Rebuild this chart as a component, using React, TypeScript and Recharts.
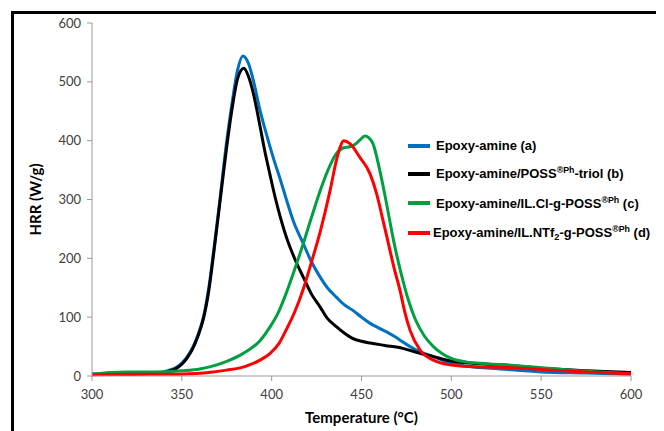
import { LineChart, Line, XAxis, YAxis, Legend, Label } from 'recharts';

// Epoxy-amine (a)
const tempA = [300, 315, 330, 338, 343, 347, 350, 353, 356, 359, 362, 365, 368, 371, 375, 378, 381, 384, 387, 390, 393.5, 397, 401, 405, 408, 412, 417.6, 422, 427, 431, 436, 440, 445, 450, 455, 460, 464, 468, 473, 477, 482, 490, 499, 510, 527, 550, 575, 600];
const hrrA = [3, 3, 4, 6, 10, 15, 22, 33, 48, 70, 100, 150, 220, 295, 400, 465, 520, 544, 532, 500, 452, 412, 370, 332, 302, 264, 225, 195, 168, 150, 134, 122, 112, 100, 89, 81, 75, 68, 58, 50, 42, 33, 22, 16, 12, 7, 5, 3];

// Epoxy-amine/POSS-triol (b)
const tempB = [300, 315, 330, 338, 343, 347, 350, 353, 356, 359, 362, 365, 368, 371, 375, 378, 381, 384.5, 387, 390, 393.5, 396, 399, 402, 405, 408.3, 413, 417.6, 422, 427, 431, 436, 440, 445, 450, 455, 463, 473, 481, 490, 499, 510, 527, 550, 575, 600];
const hrrB = [3, 3, 4, 5, 8, 13, 20, 31, 46, 68, 97, 145, 215, 290, 390, 455, 505, 523, 510, 478, 425, 385, 343, 303, 268, 235, 198, 168, 140, 117, 98, 84, 74, 64, 59, 56, 52, 47, 40, 33, 26, 22, 19, 13, 9, 6];

// Epoxy-amine/IL.Cl-g-POSS (c)
const tempC = [300, 310, 320, 335, 350, 360, 366, 375, 384, 393.5, 399, 404, 408, 413, 417.6, 422, 427, 432.5, 436, 440, 444, 447, 449, 452, 454, 456.4, 460, 464, 468, 472, 476, 480, 485, 490, 495, 500, 508, 520, 535, 550, 575, 600];
const hrrC = [3, 6, 7, 7, 9, 12, 16, 25, 38, 60, 83, 110, 140, 183, 225, 268, 315, 358, 378, 388, 390, 395, 401, 408, 405, 395, 352, 292, 228, 175, 130, 96, 68, 50, 38, 30, 24, 21, 18, 14, 8, 4];

// Epoxy-amine/IL.NTf2-g-POSS (d)
const tempD = [300, 320, 340, 355, 365, 375, 385, 393.5, 399, 404, 408, 413, 417.6, 422, 427, 432.5, 436, 438, 440, 443.6, 449, 454.7, 458.4, 462, 465, 468, 471.4, 474, 477, 482.6, 490, 499, 510, 527, 550, 575, 600];
const hrrD = [2, 3, 3, 4, 6, 10, 16, 27, 38, 55, 78, 110, 148, 192, 245, 315, 366, 388, 400, 395, 372, 344, 310, 264, 225, 185, 146, 110, 78, 44, 27, 19, 16, 15, 11, 7, 4];

const xTicks = [300, 350, 400, 450, 500, 550, 600];
const yTicks = [0, 100, 200, 300, 400, 500, 600];

const toPoints = (t: number[], v: number[]) => t.map((x, i) => ({ t: x, v: v[i] }));

const series = [
  { key: 'a', color: '#0070C0', points: toPoints(tempA, hrrA) },
  { key: 'b', color: '#000000', points: toPoints(tempB, hrrB) },
  { key: 'c', color: '#00A040', points: toPoints(tempC, hrrC) },
  { key: 'd', color: '#FF0000', points: toPoints(tempD, hrrD) },
];

const supStyle = { fontSize: '0.68em', position: 'relative' as const, top: '-0.55em', verticalAlign: 'baseline' };
const subStyle = { fontSize: '0.7em', position: 'relative' as const, top: '0.3em', verticalAlign: 'baseline' };

const legendRows = [
  { color: '#0070C0', body: <>Epoxy-amine (a)</> },
  { color: '#000000', body: <>Epoxy-amine/POSS<span style={supStyle}>®Ph</span>-triol (b)</> },
  { color: '#00A040', body: <>Epoxy-amine/IL.Cl-g-POSS<span style={supStyle}>®Ph</span> (c)</> },
  { color: '#FF0000', body: <>Epoxy-amine/IL.NTf<span style={subStyle}>2</span>-g-POSS<span style={supStyle}>®Ph</span> (d)</> },
];
const rowHeights = [27, 29, 30, 29];

const tickFont = { fontFamily: 'Lato, sans-serif', fontSize: 13, fill: '#404040' };

function renderLegend() {
  return (
    <div style={{ fontFamily: '"Liberation Sans", Arial, sans-serif', fontWeight: 'bold', fontSize: 13, color: '#000' }}>
      {legendRows.map((r, i) => (
        <div key={i} style={{ display: 'flex', alignItems: 'center', height: rowHeights[i], whiteSpace: 'nowrap' }}>
          <span style={{ display: 'inline-block', width: 22, height: 4, background: r.color, marginRight: i === 3 ? 3 : 6 }} />
          <span style={{ lineHeight: 1 }}>{r.body}</span>
        </div>
      ))}
    </div>
  );
}

export default function App() {
  return (
    <div style={{ position: 'relative', width: 656, height: 423, overflow: 'hidden' }}>
      <div style={{ position: 'absolute', left: 3, top: 3, width: 720, height: 520, border: '3px solid #000', boxSizing: 'border-box' }} />
      <div style={{ position: 'absolute', left: 0, top: 0 }}>
        <LineChart width={656} height={423} margin={{ top: 15, right: 33, bottom: 0, left: 0 }}>
          <XAxis
            dataKey="t"
            type="number"
            domain={[300, 600]}
            ticks={xTicks}
            allowDuplicatedCategory={false}
            height={55}
            tick={tickFont}
            tickSize={5}
            tickMargin={9}
            axisLine={{ stroke: '#9a9a9a' }}
            tickLine={{ stroke: '#9a9a9a' }}
          >
            <Label
              content={({ viewBox }: any) => (
                <text x={viewBox.x + viewBox.width / 2} y={viewBox.y + 47} textAnchor="middle" style={{ fontFamily: 'Lato, sans-serif', fontWeight: 'bold', fontSize: 15, fill: '#000' }}>
                  Temperature (°C)
                </text>
              )}
            />
          </XAxis>
          <YAxis
            type="number"
            domain={[0, 600]}
            ticks={yTicks}
            width={84}
            tick={tickFont}
            tickSize={5}
            tickMargin={6}
            axisLine={{ stroke: '#9a9a9a' }}
            tickLine={{ stroke: '#9a9a9a' }}
          >
            <Label
              content={({ viewBox }: any) => {
                const cx = viewBox.x + 27;
                const cy = viewBox.y + viewBox.height / 2;
                return (
                  <text x={cx} y={cy} transform={`rotate(-90 ${cx} ${cy})`} textAnchor="middle" dominantBaseline="central" style={{ fontFamily: 'Lato, sans-serif', fontWeight: 'bold', fontSize: 15, fill: '#000' }}>
                    HRR (W/g)
                  </text>
                );
              }}
            />
          </YAxis>
          <Legend
            layout="vertical"
            align="center"
            verticalAlign="middle"
            content={renderLegend}
            wrapperStyle={{ left: 400, top: 124, width: 256 }}
          />
          {series.map((s) => (
            <Line
              key={s.key}
              data={s.points}
              dataKey="v"
              type="monotone"
              stroke={s.color}
              strokeWidth={3}
              dot={false}
              isAnimationActive={false}
            />
          ))}
        </LineChart>
      </div>
    </div>
  );
}
